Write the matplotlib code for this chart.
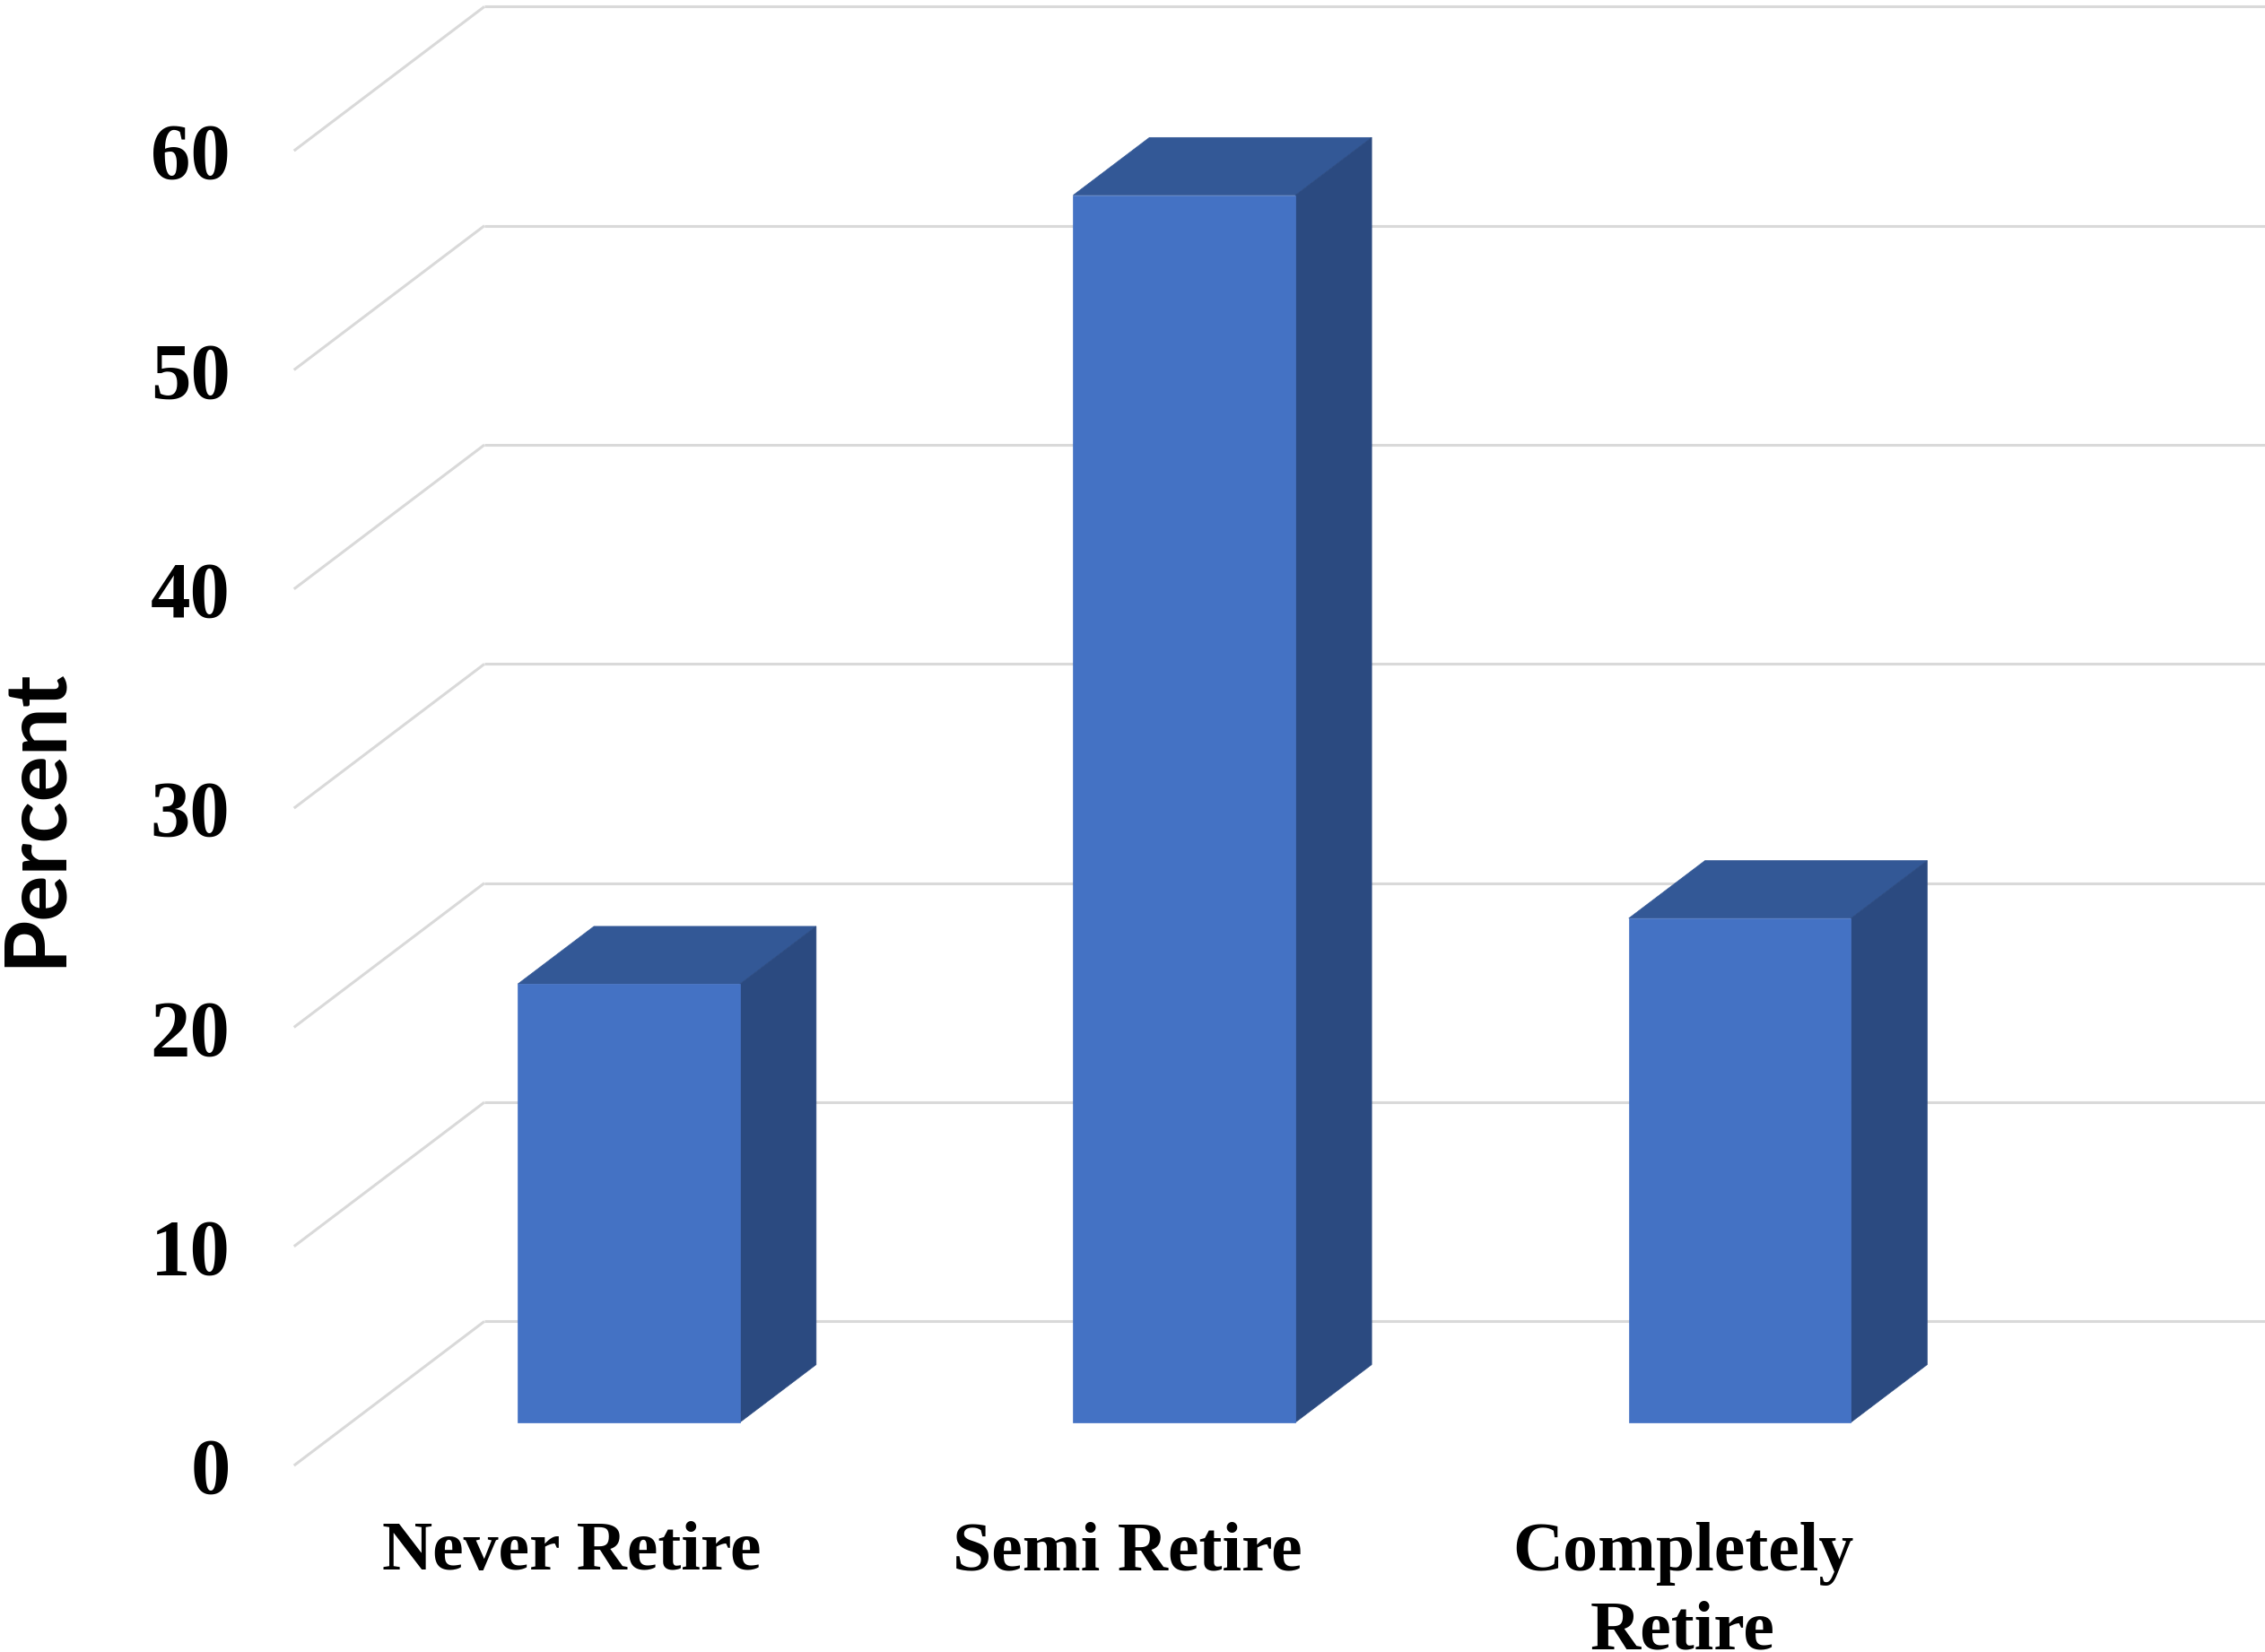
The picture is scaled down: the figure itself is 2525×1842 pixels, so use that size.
import matplotlib
matplotlib.use("Agg")
import matplotlib.pyplot as plt
from matplotlib.patches import Polygon

# Survey answers: share of respondents (%)
categories = ["Never Retire", "Semi Retire", "Completely\nRetire"]
percent = [20, 56, 23]
y_ticks = [0, 10, 20, 30, 40, 50, 60]
axis_title = "Percent"

W, H, DPI = 2525, 1842, 100
fig = plt.figure(figsize=(W / DPI, H / DPI), dpi=DPI)
ax = fig.add_axes([0, 0, 1, 1])
ax.set_xlim(-1.0292, 3.0481)
ax.set_ylim(-8.51, 66.88)
ax.axis("off")

# Oblique projection: one full unit of depth shifts by (DX, DY)
DX, DY = 0.3428, 6.578
WALL_X = -0.5          # front edge of the side wall
BAR_W = 0.4            # bar width in category slots
D0, D1 = 0.3, 0.7      # bar front / back depth

FRONT = "#4472C4"
TOP = "#335896"
SIDE = "#2B4A80"
GRID = "#d9d9d9"

serif = ["Liberation Serif", "DejaVu Serif"]

# side-wall and back-wall gridlines with value labels
grid_kw = dict(color=GRID, lw=2.2, solid_capstyle="butt", zorder=1)
for v in y_ticks:
    ax.plot([WALL_X, WALL_X + DX], [v, v + DY], **grid_kw)
    ax.plot([WALL_X + DX, 3.2], [v + DY, v + DY], **grid_kw)
    ax.text(-0.615, v - 1.263, str(v), ha="right", va="baseline",
            fontsize=64, fontweight="bold", family=serif, zorder=5)

# 3-D style columns
for i, val in enumerate(percent):
    x0 = i - BAR_W / 2 + D0 * DX
    x1 = x0 + BAR_W
    y0 = D0 * DY
    dx = (D1 - D0) * DX
    dy = (D1 - D0) * DY
    front = [(x0, y0), (x1, y0), (x1, y0 + val), (x0, y0 + val)]
    top = [(x0, y0 + val), (x1, y0 + val), (x1 + dx, y0 + val + dy), (x0 + dx, y0 + val + dy)]
    side = [(x1, y0), (x1 + dx, y0 + dy), (x1 + dx, y0 + val + dy), (x1, y0 + val)]
    ax.add_patch(Polygon(top, closed=True, facecolor=TOP, edgecolor=TOP, lw=0.5, zorder=3))
    ax.add_patch(Polygon(side, closed=True, facecolor=SIDE, edgecolor=SIDE, lw=0.5, zorder=3))
    ax.add_patch(Polygon(front, closed=True, facecolor=FRONT, edgecolor=FRONT, lw=0.5, zorder=4))

# category labels along the front edge of the floor; the first line of
# each label sits on the same baseline
LINE_STEP = 3.6
for i, name in enumerate(categories):
    n_lines = name.count("\n") + 1
    ax.text(i, -4.748 - LINE_STEP * (n_lines - 1), name, ha="center", va="baseline",
            fontsize=56, fontweight="bold", family=serif, linespacing=1.3, zorder=5)

ax.text(-0.966, 29.6, axis_title, rotation=90, ha="center", va="center",
        fontsize=69, fontweight="bold", family=["Lato", "DejaVu Sans"], zorder=5)

fig.savefig("out.png", dpi=DPI, facecolor="white")
